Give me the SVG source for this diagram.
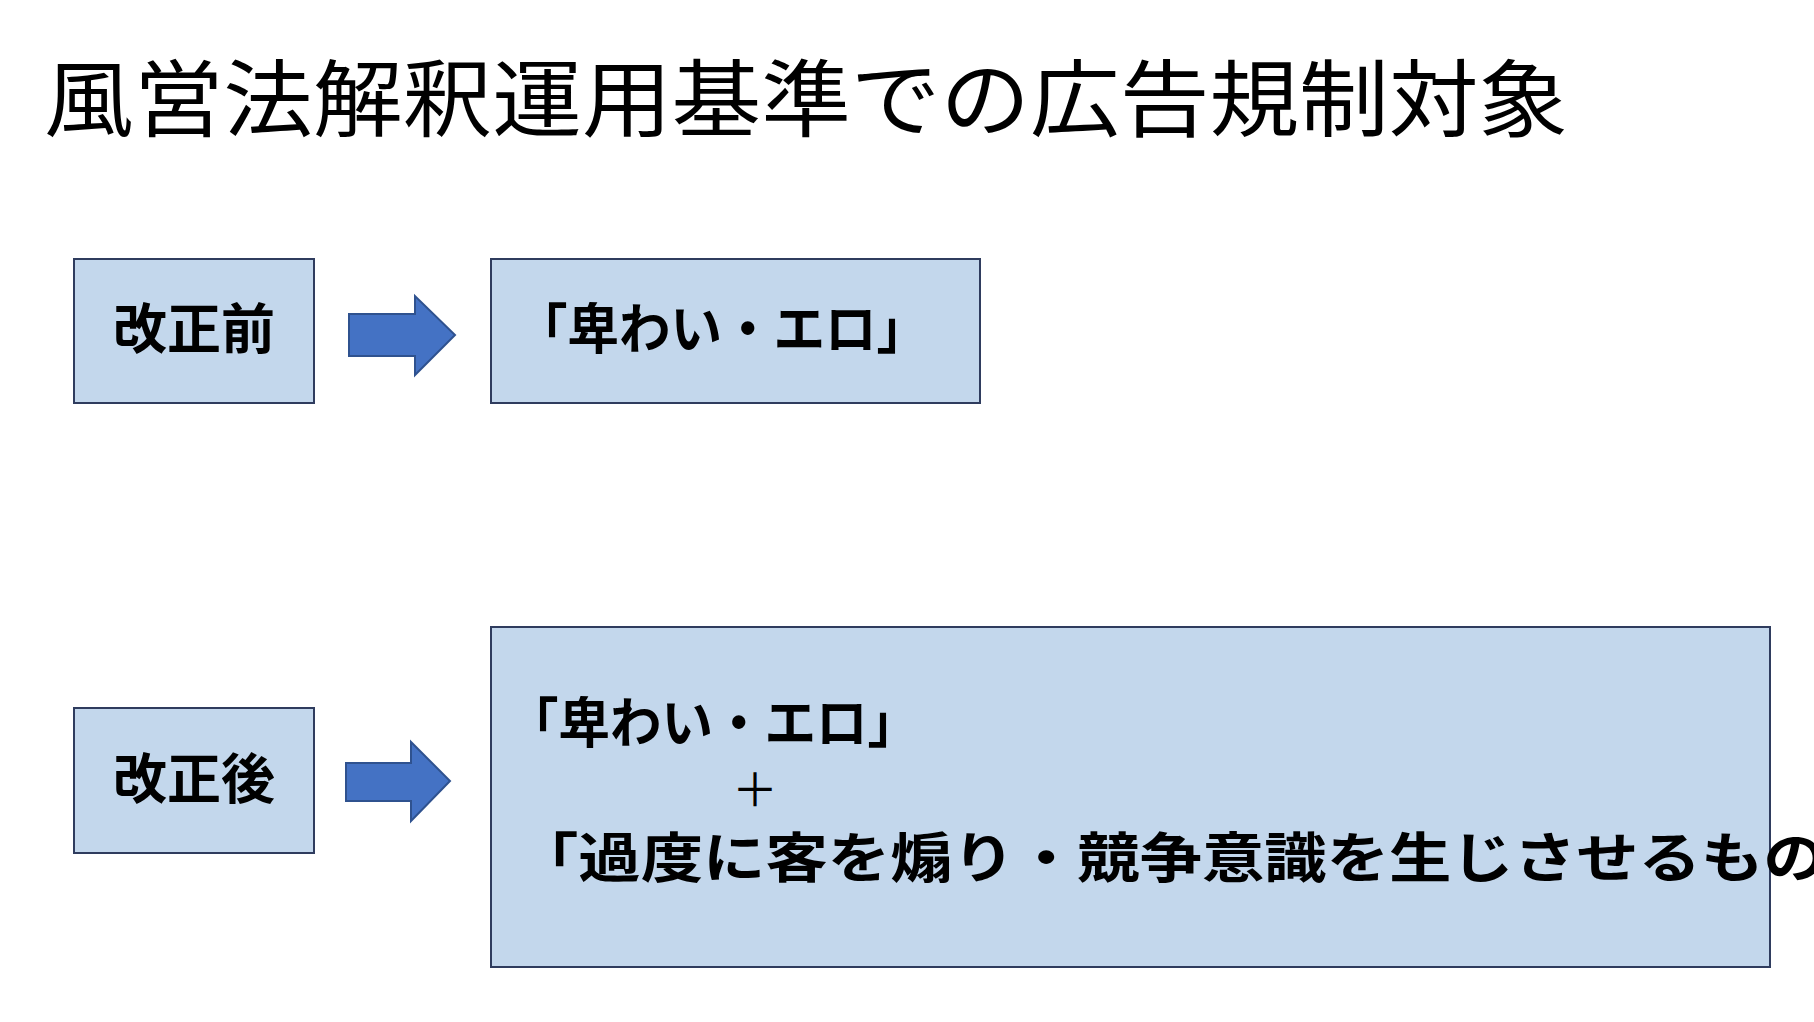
<svg xmlns="http://www.w3.org/2000/svg" width="1814" height="1022" viewBox="0 0 1814 1022">
<style>
.box{fill:#C3D7EC;stroke:#2F3C5E;stroke-width:2}
.arr{fill:#4472C4;stroke:#2F528F;stroke-width:2}
.t{font-family:"Noto Sans CJK JP","Noto Sans CJK SC",sans-serif;font-weight:bold;font-size:54px;fill:#000}
.title{font-family:"Noto Sans CJK JP",sans-serif;font-size:84px;fill:#000}
</style>
<rect width="1814" height="1022" fill="#fff"/>
<text class="title" x="44" y="130" textLength="1524" lengthAdjust="spacingAndGlyphs">風営法解釈運用基準での広告規制対象</text>
<g id="before"><rect class="box" x="74" y="259" width="240" height="144"/><text class="t" x="194" y="349" text-anchor="middle">改正前</text></g>
<g id="before-target"><rect class="box" x="491" y="259" width="489" height="144"/><text class="t" x="516" y="349" textLength="412" lengthAdjust="spacingAndGlyphs">「卑わい・エロ」</text></g>
<g id="after"><rect class="box" x="74" y="708" width="240" height="145"/><text class="t" x="194" y="799" text-anchor="middle">改正後</text></g>
<g id="after-target"><rect class="box" x="491" y="627" width="1279" height="340"/>
<text class="t" x="507" y="743" textLength="412" lengthAdjust="spacingAndGlyphs">「卑わい・エロ」</text>
<text x="755" y="806" text-anchor="middle" font-family="Noto Sans CJK JP,sans-serif" font-size="46" fill="#000">＋</text>
<text class="t" x="516" y="878" textLength="1372" lengthAdjust="spacingAndGlyphs">「過度に客を煽り・競争意識を生じさせるもの」</text></g>
<g id="connectors">
<polygon class="arr" points="349,314 415,314 415,296 455,335 415,375 415,356 349,356"/>
<polygon class="arr" points="346,763 411,763 411,742 450,781 411,821 411,801 346,801"/>
</g>
</svg>
